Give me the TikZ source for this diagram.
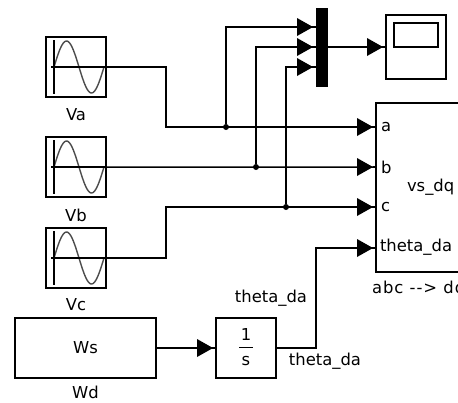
\documentclass[tikz,border=0pt]{standalone}
\usepackage{fontspec}
\setmainfont{DejaVu Sans}
\usepackage{tikz}
\usetikzlibrary{arrows.meta, positioning}

\begin{document}
\begin{tikzpicture}[x=1bp,y=-1bp]
    \tikzstyle{every node} = [font=\fontsize{16.4bp}{18bp}\selectfont, inner sep=0pt, outer sep=0pt]
    \tikzstyle{block} = [draw, rectangle, line width=1.5bp, minimum width=60bp, minimum height=60bp]
    \tikzstyle{wire} = [line width=1.5bp]
    \tikzstyle{feed} = [wire, -{Triangle[length=16bp,width=18bp,line width=0pt]Rectangle[length=3bp,width=1.5bp,line width=0pt]}]
    \tikzstyle{junction} = [circle, fill=black, minimum size=6bp]
    \useasboundingbox (0,0) rectangle (458,402);
    \clip (0,0) rectangle (458,402);

    % place nodes
    \node[block](sourceVa) at (76,67){};
    \node[block,below=40bp of sourceVa](sourceVb){};
    \node[block,below=31bp of sourceVb](sourceVc){};
    \node[below=12bp of sourceVa](labelVa){Va};
    \node[below=12bp of sourceVb](labelVb){Vb};
    \node[below=11bp of sourceVc](labelVc){Vc};
    \node[block,minimum width=141bp] (gainWd) at (85.5,348){Ws};
    \node[below=8bp of gainWd](labelWd){Wd};
    \node[block,right=60bp of gainWd](integrator){};
    \node(integNum) at (246,335){1};
    \node(integDen) at (246,361){s};
    \node[draw=black,fill=black,minimum width=11bp,minimum height=78bp](muxAll) at (321.5,47){};
    \node[block,minimum height=64bp,right=59bp of muxAll](scopeOut){};
    \node[draw,line width=1.5bp,minimum width=44bp,minimum height=24bp](scopeScreen) at (416,35){};
    \node[block,minimum width=160bp,minimum height=169bp,anchor=north west](abcBlock) at (376,103){};
    \node[anchor=west](portLabelA) at (381,127){a};
    \node[anchor=west](portLabelB) at (381,167){b};
    \node[anchor=west](portLabelC) at (381,207){c};
    \node[anchor=west](portLabelD) at (380,247){theta\_da};
    \node[anchor=west](outLabel) at (407,187){vs\_dq};
    \node[anchor=west](abcLabel) at (372,289){\addfontfeature{LetterSpace=6}abc -{}-> dq};
    \node(thetaTop) at (271,298){theta\_da};
    \node(thetaBottom) at (325,361){theta\_da};
    \node[junction](jctA) at (226,127){};
    \node[junction](jctB) at (256,167){};
    \node[junction](jctC) at (286,207){};

    % sine icons
    \foreach \src in {sourceVa,sourceVb,sourceVc}{
      \begin{scope}[shift={(\src.center)}]
        \draw[line width=1.4bp,black!70] plot[domain=0:360,samples=50,smooth] ({-22+\x/360*50},{-26*sin(\x)});
        \draw[wire] (-22,-27)--(-22,27);
        \draw[wire] (-25,0)--(30,0);
      \end{scope}
    }

    \draw[wire] (integNum |- 0,347.5) ++(-7,0) coordinate(fracL) -- ++(14,0) coordinate(fracR);

    % Connections
    \coordinate (portA) at (abcBlock.west |- jctA);
    \coordinate (portB) at (abcBlock.west |- jctB);
    \coordinate (portC) at (abcBlock.west |- jctC);
    \coordinate (portD) at (376,248);
    \coordinate (turnA) at (166,127);
    \coordinate (turnC) at (166,207);
    \coordinate (turnD) at (316,348);
    \coordinate (muxIn1) at (316,27);
    \coordinate (muxIn2) at (316,47);
    \coordinate (muxIn3) at (316,67);

    \draw[feed] (sourceVa.east) -| (turnA) -- (portA);
    \draw[feed] (sourceVb.east) -- (portB);
    \draw[feed] (sourceVc.east) -| (turnC) -- (portC);
    \draw[feed] (jctA) |- (muxIn1);
    \draw[feed] (jctB) |- (muxIn2);
    \draw[feed] (jctC) |- (muxIn3);
    \draw[feed] (muxAll.east) -- (scopeOut.west);
    \draw[feed] (gainWd.east) -- (integrator.west);
    \draw[feed] (integrator.east) -- (turnD) |- (portD);
\end{tikzpicture}
\end{document}
